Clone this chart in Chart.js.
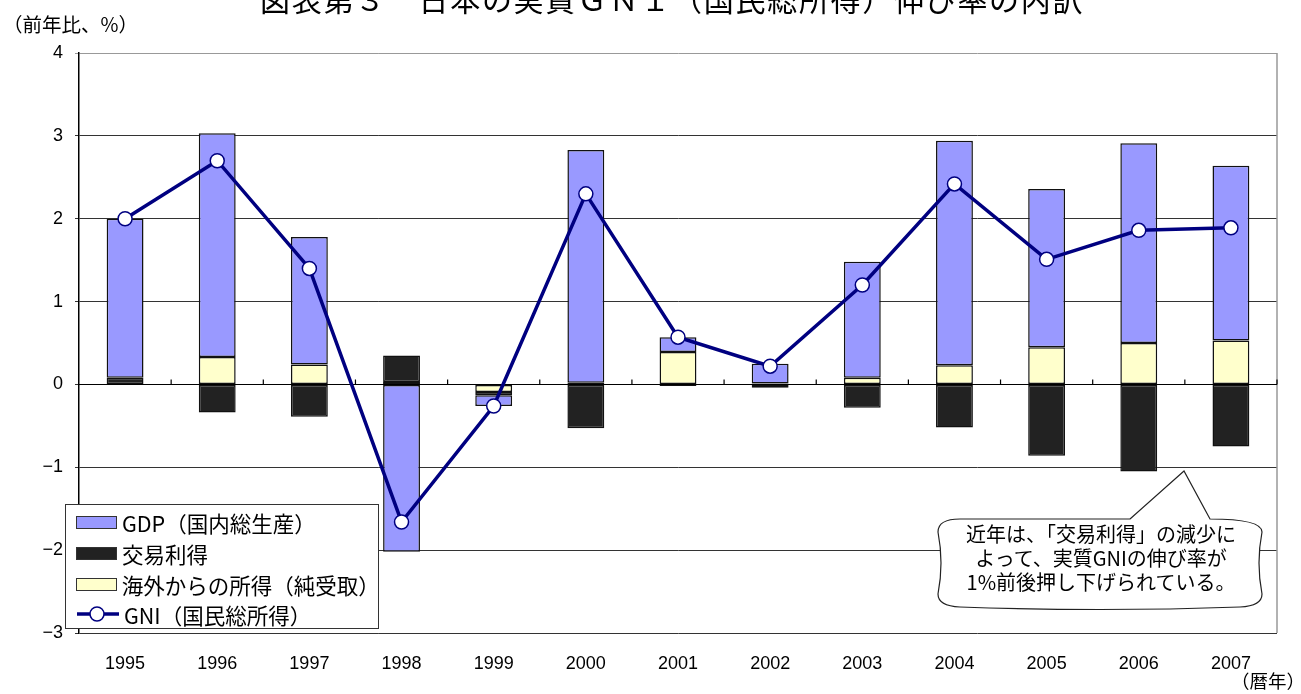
<!DOCTYPE html>
<html>
<head>
<meta charset="utf-8">
<script src="https://cdn.jsdelivr.net/npm/chart.js@4"></script>
<style>
  html, body { margin: 0; padding: 0; background: #fff; }
  body { width: 1301px; height: 694px; position: relative; overflow: hidden;
         font-family: "Noto Sans CJK JP", "Noto Sans", sans-serif; color: #000; }
  #chart { position: absolute; left: 0; top: 0; }
  .txt { position: absolute; white-space: nowrap; }
  #title { left: 260px; top: -17px; font-size: 30px; line-height: 30px; letter-spacing: 1.7px; }
  #ylab { left: 3px; top: 13px; font-size: 19.5px; line-height: 22px; }
  #xlab { left: 1231px; top: 669px; font-size: 18.5px; line-height: 22px; }
  #legend { position: absolute; left: 65px; top: 504px; width: 312px; height: 123px;
            border: 1px solid #333; background: #fff; }
  .row { position: absolute; left: 10px; height: 30px; display: flex; align-items: center; font-size: 21.5px; }
  .sw { width: 39px; height: 11px; border: 1.5px solid #333; margin-right: 5px; }
  #note { left: 934px; width: 334px; top: 522px; font-size: 20px; line-height: 24px; text-align: center; }
  svg { position: absolute; left: 0; top: 0; pointer-events: none; }
</style>
</head>
<body>
<canvas id="chart" width="1301" height="694"></canvas>
<div class="txt" id="title">図表第３　日本の実質ＧＮＩ（国民総所得）伸び率の内訳</div>
<div class="txt" id="ylab">（前年比、%）</div>
<div class="txt" id="xlab">（暦年）</div>

<svg width="1301" height="694">
  <path d="M 1130 519 L 1184 471 L 1210 519 Q 1262 519 1262 532 Q 1256 563 1262 594 Q 1262 606 1240 607 Q 1100 612 960 607 Q 938 606 938 594 Q 944 563 938 532 Q 938 519 960 519 Z"
        fill="#fff" stroke="#222" stroke-width="1.2"/>
</svg>
<div class="txt" id="note">近年は、「交易利得」の減少に<br>よって、実質GNIの伸び率が<br>1%前後押し下げられている。</div>

<div id="legend">
  <div class="row" style="top:2px"><div class="sw" style="background:#9999FF"></div>GDP（国内総生産）</div>
  <div class="row" style="top:33px"><div class="sw" style="background:#222222"></div>交易利得</div>
  <div class="row" style="top:64px"><div class="sw" style="background:#FFFFCC"></div>海外からの所得（純受取）</div>
  <div class="row" style="top:94px">
    <svg width="48" height="20" style="position:static;margin-right:0">
      <line x1="1" y1="10" x2="43" y2="10" stroke="#000080" stroke-width="3.5"/>
      <circle cx="21" cy="10" r="7" fill="#fff" stroke="#000080" stroke-width="1.5"/>
    </svg>GNI（国民総所得）
  </div>
</div>

<script>
const years = ['1995', '1996', '1997', '1998', '1999', '2000', '2001', '2002', '2003', '2004', '2005', '2006', '2007'];
const gdp = [1.92, 2.70, 1.54, -2.02, -0.13, 2.81, 0.18, 0.24, 1.40, 2.71, 1.91, 2.41, 2.11];
const tradeGain = [0.08, -0.34, -0.39, 0.32, -0.04, -0.53, -0.02, -0.04, -0.28, -0.52, -0.86, -1.05, -0.75];
const netIncome = [0.00, 0.33, 0.24, 0.03, -0.09, 0.02, 0.39, 0.01, 0.08, 0.23, 0.45, 0.50, 0.53];
const gni = [2.00, 2.70, 1.40, -1.66, -0.26, 2.30, 0.57, 0.22, 1.20, 2.42, 1.51, 1.86, 1.89];
const yTicks = [-3, -2, -1, 0, 1, 2, 3, 4];

// plot frame + small tick marks on the zero line
const framePlugin = {
    id: 'frame',
    beforeDatasetsDraw(chart) {
        const { ctx, chartArea: a, scales } = chart;
        ctx.save();
        ctx.strokeStyle = '#999';
        ctx.lineWidth = 1.5;
        ctx.beginPath();
        ctx.moveTo(a.right, a.top);
        ctx.lineTo(a.right, a.bottom);
        ctx.stroke();
        const y0 = Math.round(scales.y.getPixelForValue(0)) + 0.5;
        ctx.strokeStyle = '#000';
        ctx.lineWidth = 1.2;
        ctx.beginPath();
        ctx.moveTo(a.left, y0);
        ctx.lineTo(a.right, y0);
        for (let i = 1; i <= years.length; i++) {
            const x = i < years.length
                ? (scales.x.getPixelForValue(i - 1) + scales.x.getPixelForValue(i)) / 2
                : a.right;
            ctx.moveTo(x, y0);
            ctx.lineTo(x, y0 - 5);
        }
        ctx.stroke();
        ctx.restore();
    }
};

const barStyle = { borderColor: '#111', borderWidth: 1.5, borderSkipped: false,
                   categoryPercentage: 1, barPercentage: 0.4, order: 1, stack: 'a' };

new Chart(document.getElementById('chart'), {
    type: 'bar',
    data: {
        labels: years,
        datasets: [
            { type: 'line', label: 'GNI（国民総所得）', data: gni, order: 0, stack: 'gni',
              borderColor: '#000080', borderWidth: 3.5, tension: 0,
              pointRadius: 7, pointBorderWidth: 1.5,
              pointBackgroundColor: '#fff', pointBorderColor: '#000080' },
            { label: '海外からの所得（純受取）', data: netIncome, backgroundColor: '#FFFFCC', ...barStyle },
            { label: '交易利得', data: tradeGain, backgroundColor: '#222222', ...barStyle },
            { label: 'GDP（国内総生産）', data: gdp, backgroundColor: '#9999FF', ...barStyle }
        ]
    },
    options: {
        responsive: false,
        devicePixelRatio: 1,
        animation: false,
        layout: { padding: { top: 53, right: 24, left: 0, bottom: 0 } },
        plugins: { legend: { display: false }, tooltip: { enabled: false } },
        scales: {
            x: {
                stacked: true,
                grid: { display: false },
                border: { display: false },
                ticks: { color: '#000', padding: 12, maxRotation: 0,
                         font: { family: 'Liberation Sans, Arial', size: 18 } },
                afterFit(scale) { scale.height = 61; }
            },
            y: {
                stacked: true,
                min: -3, max: 4,
                afterBuildTicks(scale) { scale.ticks = yTicks.map(v => ({ value: v })); },
                grid: {
                    color: ctx => ctx.tick && ctx.tick.value === 4 ? '#999' : '#333',
                    lineWidth: 1, tickLength: 4
                },
                border: { display: true, color: '#000', width: 1.5 },
                ticks: {
                    color: '#000', padding: 12,
                    font: { family: 'Liberation Sans, Arial', size: 18 },
                    callback: v => v < 0 ? '\u2212' + Math.abs(v) : String(v)
                },
                afterFit(scale) { scale.width = 79; }
            }
        }
    },
    plugins: [framePlugin]
});
</script>
</body>
</html>
